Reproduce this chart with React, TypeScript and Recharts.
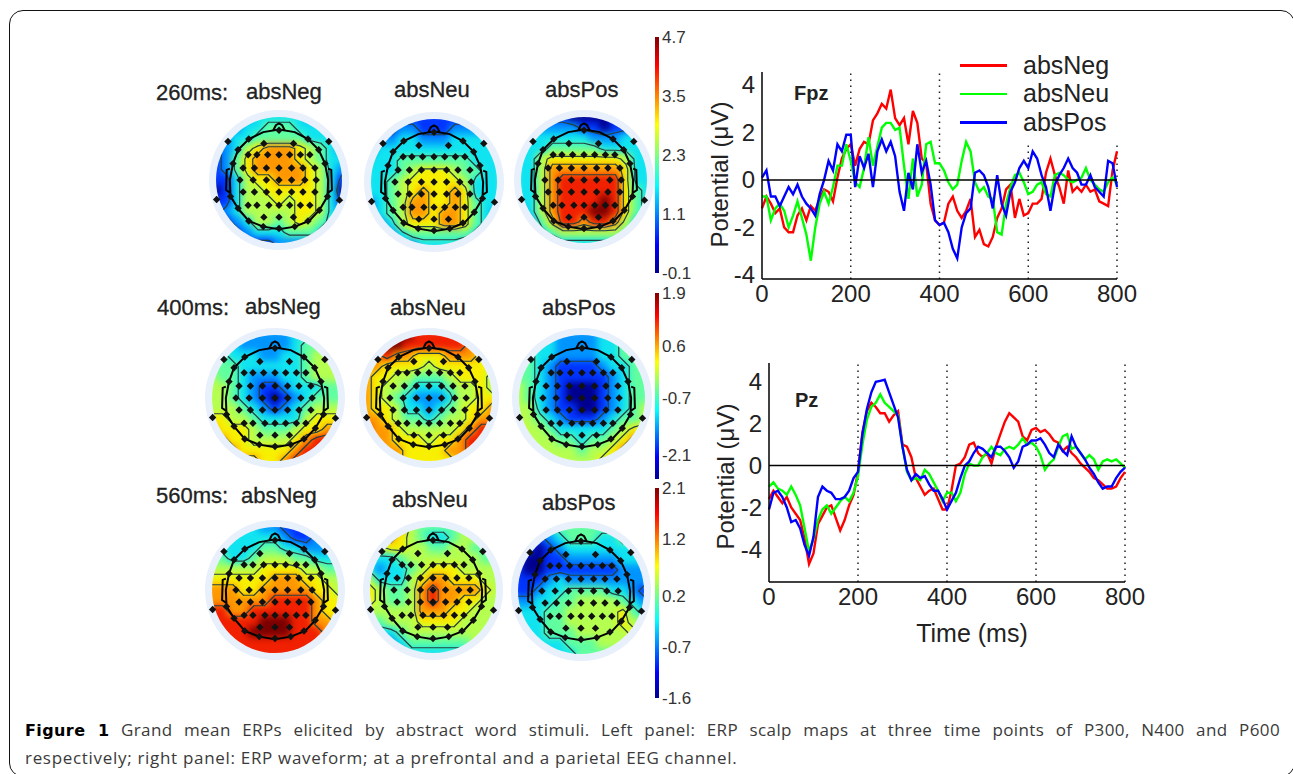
import React from "react"
import {
  Bar, BarChart, Legend, Line, LineChart, ReferenceLine, Scatter, ScatterChart, XAxis, YAxis,
} from "recharts"

const FONT = "'Liberation Sans', Arial, sans-serif"
const RED = "#ff0000"
const GREEN = "#00ff00"
const BLUE = "#0000ff"

// waveform samples, one every 10 ms
const timeMs = Array.from({ length: 81 }, (_, i) => i * 10)
const timeTicks = [0, 200, 400, 600, 800]

const fpzNeg = [-1.2, -0.7, -1.0, -1.4, -1.2, -2.0, -2.2, -2.2, -1.5, -1.2, -1.7, -1.1, -1.3, -0.8, -0.4, -0.5, -0.9, 0.1, 0.9, 1.3, 1.5, 0.6, 1.3, 1.6, 1.5, 2.5, 2.8, 3.2, 3.0, 3.8, 2.6, 2.3, 2.6, 1.5, 2.9, 2.4, 0.9, 0.7, -1.0, -1.7, -1.9, -1.8, -1.0, -0.7, -1.3, -1.6, -1.3, -0.8, -2.4, -2.1, -2.7, -2.8, -2.4, -1.6, -1.2, -0.4, -0.2, -1.6, -0.8, -1.5, -1.4, -1.0, -1.0, -0.8, 0.3, 0.9, 0.2, -0.3, -1.0, 0.4, -0.5, -0.3, -0.5, -0.2, -0.5, -0.4, -0.9, -1.0, -1.1, 0.4, 1.2]
const fpzNeu = [-0.7, -0.7, -1.7, -1.2, -1.0, -1.3, -2.0, -1.5, -0.9, -1.6, -2.3, -3.4, -2.0, -1.0, -0.5, -1.0, -0.3, 0.6, 0.6, 1.5, 0.8, -0.1, -0.3, 0.5, 1.8, 0.6, 1.4, 2.2, 2.4, 2.4, 2.1, 2.2, 0.6, -0.8, 0.9, -0.7, -0.2, 1.5, 1.6, 0.7, 0.7, 0.4, -0.1, -0.4, -0.2, 0.8, 1.6, 1.2, -0.1, -0.5, -0.3, -0.7, -0.8, -2.2, -2.3, -1.0, -0.3, 0.2, 0.3, -0.1, -0.6, -0.5, -0.2, -0.1, -0.6, -0.7, 0.2, 0.3, 0.2, 0.0, -0.1, 0.0, 0.1, 0.5, 0.0, -0.2, -0.4, -0.5, -0.1, 0.1, -0.2]
const fpzPos = [0.1, 0.4, -0.7, -0.7, -1.1, -0.7, -0.3, -0.6, -0.2, -0.7, -1.0, -1.2, -1.5, -0.6, 0.0, 0.8, 0.4, 1.5, 1.2, 1.9, 1.9, -0.3, 1.0, 0.5, 1.1, -0.3, 1.2, 1.7, 1.2, 1.6, 1.0, -0.5, -1.3, 0.3, -0.4, 1.5, 0.3, 0.8, -0.2, -1.7, -1.9, -1.8, -2.2, -2.9, -3.3, -2.0, -1.4, -1.2, 0.3, 0.4, 0.2, -0.3, -1.2, 0.2, -1.0, -1.5, -0.5, -0.1, 0.5, 0.8, 0.5, 1.2, 0.9, 0.2, -0.3, -1.3, -0.2, 0.2, 0.5, 0.9, 0.5, 0.3, -0.2, -0.2, 0.2, -0.3, -0.5, -0.7, 0.8, 0.7, -0.3]

const pzNeg = [-1.6, -1.2, -1.5, -1.8, -1.5, -2.0, -2.3, -2.6, -3.5, -4.7, -4.2, -2.8, -2.4, -2.0, -1.9, -2.5, -3.1, -2.6, -1.9, -1.4, -0.3, 1.6, 2.6, 3.0, 2.8, 2.5, 2.5, 2.1, 2.4, 2.6, 1.0, 0.9, 0.4, -0.6, -1.0, -1.4, -1.2, -1.1, -1.6, -2.1, -2.1, -1.2, 0.0, 0.1, 0.4, 1.0, 1.1, 0.6, 0.4, 0.6, 0.1, 0.9, 1.5, 2.1, 2.5, 2.3, 2.1, 1.4, 1.2, 1.7, 1.8, 1.6, 1.7, 1.5, 1.2, 1.1, 0.7, 0.9, 0.6, 0.4, 0.1, -0.1, -0.3, -0.6, -0.7, -0.9, -1.1, -1.1, -1.0, -0.6, -0.3]
const pzNeu = [-1.0, -0.8, -1.1, -1.2, -1.4, -1.0, -1.4, -1.9, -3.0, -4.1, -3.5, -2.6, -2.1, -1.9, -2.3, -2.0, -1.7, -1.5, -1.7, -1.3, -0.5, 1.0, 2.2, 2.8, 3.0, 3.4, 3.0, 2.8, 2.6, 2.4, 0.9, -0.3, -0.7, -0.6, -0.7, -0.2, -0.4, -0.8, -1.2, -1.7, -1.3, -1.3, -1.7, -1.3, -0.4, 0.1, 0.0, 0.0, 0.4, 0.6, 0.9, 0.6, 0.5, 0.8, 0.9, 0.8, 1.0, 1.3, 1.0, 1.1, 0.9, 0.5, -0.2, 0.1, 0.3, 0.9, 1.4, 1.5, 0.8, 0.9, 0.6, 0.3, 0.5, 0.3, -0.2, 0.2, 0.3, 0.2, 0.3, 0.1, -0.1]
const pzPos = [-2.1, -1.3, -1.2, -1.5, -2.0, -2.7, -2.6, -3.0, -3.8, -4.3, -3.4, -1.5, -1.0, -1.2, -1.3, -1.6, -1.6, -1.5, -1.2, -0.6, -0.3, 1.5, 2.7, 3.5, 4.0, 4.05, 4.1, 3.5, 2.9, 2.3, 0.9, -0.2, -0.7, -0.4, -0.6, -0.5, -0.9, -1.2, -1.2, -1.6, -2.1, -1.7, -1.3, -0.6, 0.0, 0.2, 0.6, 0.9, 0.8, 0.6, 0.4, 0.9, 0.9, 0.7, 0.4, -0.1, 0.2, 0.9, 1.0, 1.2, 1.2, 1.3, 1.0, 0.6, 0.4, 1.0, 0.7, 0.5, 1.4, 0.9, 0.6, 0.3, -0.1, -0.4, -0.8, -1.1, -1.0, -1.0, -0.6, -0.3, -0.1]

const fpzTable = timeMs.map((t, i) => ({ t, absNeg: fpzNeg[i], absNeu: fpzNeu[i], absPos: fpzPos[i] }))
const pzTable = timeMs.map((t, i) => ({ t, absNeg: pzNeg[i], absNeu: pzNeu[i], absPos: pzPos[i] }))

// scalp maps: colour level 0-9 on a 13x13 grid, top row is the front of the head
const map260Neg = [
  [2, 2, 2, 2, 3, 3, 3, 3, 3, 2, 2, 2, 2],
  [2, 2, 2, 3, 3, 4, 4, 4, 3, 3, 3, 2, 2],
  [2, 2, 3, 3, 4, 4, 4, 4, 4, 3, 3, 3, 2],
  [1, 2, 3, 5, 6, 7, 7, 7, 6, 5, 4, 3, 2],
  [1, 2, 4, 6, 7, 7, 7, 7, 6, 5, 4, 3, 3],
  [1, 2, 4, 6, 7, 7, 7, 7, 7, 6, 5, 3, 2],
  [1, 1, 3, 5, 6, 6, 7, 7, 7, 6, 5, 3, 1],
  [0, 1, 3, 5, 5, 6, 6, 6, 6, 6, 5, 3, 0],
  [1, 1, 3, 5, 5, 5, 6, 5, 6, 6, 5, 3, 1],
  [1, 2, 3, 5, 5, 5, 5, 5, 6, 6, 5, 3, 2],
  [1, 1, 2, 3, 5, 5, 4, 5, 6, 5, 4, 3, 2],
  [1, 1, 1, 2, 3, 3, 3, 4, 4, 4, 3, 2, 2],
  [1, 1, 1, 1, 1, 1, 2, 2, 2, 2, 2, 2, 2],
]
const map260Neu = [
  [1, 1, 1, 1, 1, 1, 1, 1, 1, 1, 1, 1, 1],
  [1, 1, 1, 2, 2, 1, 1, 1, 2, 2, 2, 2, 1],
  [2, 2, 2, 3, 3, 2, 2, 2, 3, 3, 3, 3, 2],
  [2, 3, 3, 3, 3, 3, 3, 3, 3, 3, 3, 3, 3],
  [3, 3, 3, 4, 4, 4, 4, 4, 4, 4, 3, 3, 3],
  [3, 3, 3, 4, 5, 6, 6, 6, 5, 4, 4, 3, 3],
  [3, 3, 4, 5, 6, 6, 6, 6, 6, 5, 3, 3, 3],
  [3, 3, 4, 5, 6, 7, 6, 6, 7, 6, 3, 3, 3],
  [2, 3, 4, 5, 7, 7, 6, 6, 7, 6, 4, 3, 3],
  [2, 3, 4, 5, 7, 7, 6, 7, 7, 6, 4, 3, 2],
  [1, 2, 3, 5, 6, 6, 6, 7, 7, 6, 4, 3, 2],
  [1, 1, 2, 3, 4, 4, 4, 4, 4, 4, 3, 2, 2],
  [1, 1, 1, 2, 2, 3, 3, 3, 3, 2, 2, 2, 2],
]
const map260Pos = [
  [1, 1, 1, 1, 1, 0, 0, 0, 0, 1, 1, 1, 1],
  [2, 2, 2, 2, 2, 2, 1, 1, 0, 1, 1, 2, 2],
  [3, 3, 3, 3, 3, 3, 3, 2, 2, 2, 3, 3, 3],
  [3, 3, 3, 4, 4, 4, 4, 4, 3, 3, 3, 3, 3],
  [3, 3, 5, 6, 6, 6, 6, 6, 6, 6, 5, 3, 3],
  [3, 3, 5, 7, 7, 7, 7, 7, 7, 7, 6, 3, 3],
  [3, 3, 5, 7, 8, 8, 8, 8, 8, 8, 6, 3, 3],
  [3, 3, 5, 7, 8, 8, 8, 8, 8, 8, 6, 4, 3],
  [3, 3, 5, 7, 8, 8, 8, 8, 9, 8, 6, 4, 3],
  [2, 3, 5, 7, 8, 8, 8, 9, 9, 8, 6, 4, 3],
  [2, 2, 4, 6, 8, 8, 7, 8, 8, 7, 5, 3, 3],
  [1, 2, 3, 4, 5, 5, 5, 5, 5, 5, 4, 3, 2],
  [1, 1, 2, 2, 3, 3, 3, 3, 3, 3, 2, 2, 2],
]
const map400Neg = [
  [3, 3, 3, 2, 2, 2, 2, 2, 3, 3, 4, 4, 4],
  [3, 3, 3, 2, 2, 2, 2, 2, 3, 4, 4, 5, 5],
  [4, 4, 3, 3, 3, 2, 2, 3, 3, 4, 5, 5, 5],
  [4, 4, 4, 3, 3, 3, 3, 3, 3, 4, 5, 5, 5],
  [5, 4, 4, 3, 2, 2, 2, 3, 3, 4, 5, 5, 5],
  [5, 5, 4, 3, 2, 1, 1, 2, 3, 3, 3, 4, 4],
  [5, 5, 4, 3, 2, 1, 0, 1, 2, 3, 4, 4, 4],
  [5, 5, 5, 4, 3, 2, 1, 2, 3, 4, 5, 5, 5],
  [6, 6, 5, 5, 4, 3, 3, 3, 3, 5, 6, 6, 6],
  [7, 6, 6, 6, 5, 4, 4, 4, 5, 6, 6, 7, 7],
  [7, 7, 6, 6, 5, 5, 5, 5, 6, 7, 8, 8, 8],
  [7, 7, 7, 6, 6, 6, 6, 6, 7, 8, 8, 8, 8],
  [7, 7, 7, 7, 7, 6, 6, 7, 8, 8, 8, 8, 8],
]
const map400Neu = [
  [8, 8, 9, 9, 9, 8, 8, 8, 8, 8, 8, 8, 7],
  [7, 8, 9, 9, 8, 8, 8, 8, 8, 8, 7, 7, 7],
  [7, 7, 8, 7, 7, 6, 6, 6, 7, 7, 7, 6, 6],
  [7, 7, 6, 6, 6, 6, 5, 6, 6, 6, 6, 6, 6],
  [7, 6, 6, 5, 5, 4, 4, 4, 5, 6, 6, 6, 5],
  [7, 6, 5, 5, 4, 3, 3, 3, 4, 5, 5, 6, 5],
  [7, 6, 5, 4, 3, 2, 2, 2, 3, 5, 5, 6, 6],
  [7, 6, 6, 5, 3, 3, 2, 3, 4, 5, 6, 6, 7],
  [7, 7, 6, 5, 4, 4, 3, 4, 5, 5, 6, 7, 7],
  [8, 7, 7, 6, 5, 5, 5, 5, 5, 6, 7, 8, 8],
  [7, 7, 7, 6, 6, 6, 5, 6, 6, 7, 8, 8, 8],
  [7, 7, 7, 7, 6, 6, 6, 6, 7, 7, 8, 8, 8],
  [7, 7, 7, 7, 6, 6, 6, 6, 6, 7, 7, 7, 7],
]
const map400Pos = [
  [3, 3, 3, 3, 2, 2, 2, 2, 3, 3, 4, 4, 4],
  [4, 3, 3, 3, 2, 2, 2, 2, 3, 3, 4, 4, 4],
  [4, 4, 3, 3, 2, 2, 2, 2, 3, 3, 4, 4, 4],
  [4, 4, 3, 2, 1, 1, 1, 1, 2, 3, 3, 4, 4],
  [4, 4, 3, 2, 1, 1, 1, 1, 1, 2, 3, 4, 4],
  [5, 4, 3, 2, 1, 0, 0, 0, 1, 2, 3, 4, 4],
  [5, 4, 3, 2, 1, 0, 0, 0, 1, 2, 3, 4, 4],
  [5, 5, 3, 2, 1, 1, 0, 0, 1, 2, 3, 4, 5],
  [5, 5, 4, 3, 2, 1, 1, 1, 2, 3, 4, 4, 5],
  [6, 5, 5, 4, 3, 3, 3, 3, 3, 4, 5, 6, 6],
  [6, 5, 5, 5, 4, 4, 3, 4, 4, 5, 6, 7, 7],
  [6, 6, 5, 5, 5, 5, 4, 5, 5, 6, 7, 7, 7],
  [6, 6, 6, 5, 5, 5, 5, 5, 6, 6, 7, 7, 7],
]
const map560Neg = [
  [3, 3, 3, 3, 3, 2, 2, 1, 1, 1, 2, 2, 2],
  [3, 3, 3, 3, 3, 3, 3, 2, 1, 1, 2, 2, 2],
  [3, 3, 3, 3, 3, 4, 4, 3, 3, 2, 2, 2, 2],
  [4, 4, 3, 3, 4, 5, 5, 5, 4, 4, 3, 3, 3],
  [5, 5, 5, 5, 5, 6, 6, 6, 6, 5, 5, 4, 4],
  [6, 6, 6, 6, 6, 6, 7, 7, 7, 6, 6, 5, 5],
  [7, 7, 7, 6, 6, 7, 7, 7, 7, 7, 6, 6, 5],
  [7, 7, 7, 7, 7, 7, 8, 8, 8, 8, 7, 6, 6],
  [8, 8, 7, 7, 8, 8, 8, 8, 8, 8, 7, 6, 6],
  [8, 8, 8, 8, 8, 9, 9, 9, 8, 8, 7, 7, 6],
  [8, 8, 8, 8, 9, 9, 9, 9, 8, 8, 8, 7, 7],
  [8, 8, 8, 8, 8, 8, 8, 8, 8, 8, 8, 7, 7],
  [8, 8, 8, 8, 8, 8, 8, 8, 8, 8, 8, 7, 7],
]
const map560Neu = [
  [6, 6, 7, 7, 5, 4, 4, 4, 4, 5, 5, 4, 4],
  [6, 6, 7, 6, 5, 4, 3, 3, 4, 5, 5, 4, 4],
  [4, 5, 6, 6, 5, 5, 4, 4, 5, 5, 4, 4, 4],
  [3, 3, 3, 4, 5, 5, 5, 5, 5, 5, 5, 4, 4],
  [3, 2, 3, 3, 4, 5, 6, 6, 6, 5, 5, 5, 5],
  [5, 3, 3, 3, 5, 6, 7, 7, 6, 6, 6, 5, 5],
  [6, 5, 4, 4, 5, 7, 8, 7, 7, 7, 7, 6, 5],
  [6, 5, 4, 4, 5, 7, 8, 7, 7, 6, 6, 5, 5],
  [5, 5, 5, 5, 5, 7, 7, 7, 6, 6, 5, 5, 5],
  [4, 4, 5, 5, 5, 6, 6, 6, 6, 5, 5, 5, 5],
  [2, 3, 3, 4, 5, 5, 5, 5, 5, 5, 5, 5, 5],
  [1, 1, 2, 3, 4, 4, 4, 4, 4, 4, 5, 5, 5],
  [1, 1, 1, 2, 3, 3, 3, 3, 3, 3, 3, 3, 4],
]
const map560Pos = [
  [2, 2, 2, 3, 4, 4, 4, 4, 4, 4, 4, 4, 4],
  [2, 1, 1, 2, 3, 4, 4, 4, 3, 3, 4, 4, 4],
  [1, 1, 0, 1, 2, 3, 3, 3, 3, 3, 3, 3, 3],
  [1, 0, 0, 1, 1, 2, 2, 2, 2, 2, 3, 3, 3],
  [1, 0, 0, 1, 1, 1, 1, 1, 1, 1, 2, 2, 2],
  [1, 1, 1, 2, 3, 2, 2, 2, 2, 2, 2, 2, 2],
  [1, 1, 2, 3, 3, 4, 4, 4, 4, 3, 3, 2, 1],
  [2, 2, 3, 3, 4, 4, 5, 5, 5, 5, 4, 3, 2],
  [3, 3, 3, 4, 4, 5, 5, 5, 5, 5, 6, 4, 3],
  [3, 3, 3, 4, 4, 5, 5, 5, 5, 5, 6, 5, 5],
  [3, 3, 3, 4, 4, 4, 5, 5, 5, 5, 5, 6, 6],
  [3, 3, 3, 3, 3, 4, 4, 4, 5, 5, 5, 6, 6],
  [3, 3, 3, 3, 3, 3, 4, 4, 4, 4, 5, 5, 6],
]

const levelColors = ["#00008f", "#0034ff", "#0094ff", "#10e4f0", "#60ffa0", "#b4ff50", "#f8f000", "#ff9800", "#f02000", "#7a0000"]
const contourLevels = [1.5, 3.5, 5.5, 6.5, 7.5]

// electrode montage in head units
const electrodeX = [-0.81, 0.79, -0.99, 0.96, -0.24, 0.23, 0, -0.48, 0.46, -0.65, 0.63, -0.49, -0.35, -0.18, 0, 0.17, 0.34, 0.49, -0.73, 0.73, -0.57, -0.39, -0.2, 0, 0.2, 0.38, 0.57, -0.62, -0.41, -0.2, 0, 0.2, 0.41, 0.59, -0.57, -0.39, -0.2, 0, 0.2, 0.38, 0.57, -0.49, -0.35, -0.16, 0, 0.17, 0.34, 0.49, -0.24, 0, 0.23, -0.48, 0.46, 0, -0.25, 0.25, -0.65, 0.64, -0.77, 0.77]
const electrodeY = [0.61, 0.61, -0.31, -0.32, 0.58, 0.58, 0.79, 0.65, 0.65, 0.48, 0.48, 0.4, 0.4, 0.4, 0.4, 0.4, 0.4, 0.4, 0.26, 0.26, 0.19, 0.19, 0.19, 0.19, 0.19, 0.19, 0.19, 0, 0, 0, 0, 0, 0, 0, -0.19, -0.19, -0.19, -0.19, -0.19, -0.19, -0.19, -0.4, -0.4, -0.4, -0.4, -0.4, -0.4, -0.4, -0.59, -0.59, -0.59, -0.65, -0.65, -0.77, -0.74, -0.74, -0.45, -0.48, -0.26, -0.26]
const electrodes = electrodeX.map((x, i) => ({ x, y: electrodeY[i] }))

const headRing = [[0, 0.8], [0.25, 0.76], [0.46, 0.65], [0.63, 0.48], [0.73, 0.26], [0.78, 0], [0.77, -0.26], [0.64, -0.48], [0.48, -0.65], [0.25, -0.74], [0, -0.78], [-0.25, -0.74], [-0.48, -0.65], [-0.65, -0.45], [-0.77, -0.26], [-0.78, 0], [-0.73, 0.26], [-0.65, 0.48], [-0.48, 0.65], [-0.25, 0.76], [0, 0.8]]
const noseLine = [[-0.09, 0.79], [-0.05, 0.87], [0, 0.9], [0.05, 0.87], [0.09, 0.79]]
const leftEar = [[-0.78, 0.18], [-0.83, 0.16], [-0.84, -0.16], [-0.78, -0.2]]
const rightEar = [[0.78, 0.18], [0.83, 0.16], [0.84, -0.16], [0.78, -0.2]]
const toPoints = (rows: number[][]) => rows.map(([x, y]) => ({ x, y }))

const DISC_R = 63
const CHART_SIZE = 150
const UNIT = (CHART_SIZE / 2) / DISC_R
const CELL = DISC_R / 6 + 0.6

const gridCells = (grid: number[][]) =>
  grid.flatMap((row, r) => row.map((level, c) => ({ x: -1 + c / 6, y: 1 - r / 6, level })))

// marching squares over the level grid, two points per contour piece
const contourPieces = (grid: number[][]) => {
  const pts: { x: number, y: number }[] = []
  const px = (c: number) => -1 + c / 6
  const py = (r: number) => 1 - r / 6
  contourLevels.forEach((lv) => {
    for (let r = 0; r < grid.length - 1; r++) {
      for (let c = 0; c < grid[r].length - 1; c++) {
        const a = grid[r][c], b = grid[r][c + 1], d = grid[r + 1][c + 1], e = grid[r + 1][c]
        const hits: { x: number, y: number }[] = []
        if ((a - lv) * (b - lv) < 0) hits.push({ x: px(c + (lv - a) / (b - a)), y: py(r) })
        if ((b - lv) * (d - lv) < 0) hits.push({ x: px(c + 1), y: py(r + (lv - b) / (d - b)) })
        if ((d - lv) * (e - lv) < 0) hits.push({ x: px(c + (lv - e) / (d - e)), y: py(r + 1) })
        if ((e - lv) * (a - lv) < 0) hits.push({ x: px(c), y: py(r + (lv - a) / (e - a)) })
        pts.push(...hits)
      }
    }
  })
  return pts
}

const HeatCell = (p: any) => (
  <rect x={p.cx - CELL / 2} y={p.cy - CELL / 2} width={CELL} height={CELL} fill={levelColors[p.payload.level]} />
)
const ElectrodeMark = (p: any) => (
  <path d={`M${p.cx} ${p.cy - 3.7}L${p.cx + 3.7} ${p.cy}L${p.cx} ${p.cy + 3.7}L${p.cx - 3.7} ${p.cy}Z`} fill="#111" />
)
const NoMark = () => <g />
const ContourPath = (p: any) => {
  let d = ""
  for (let i = 0; i + 1 < p.points.length; i += 2) {
    d += `M${p.points[i].x} ${p.points[i].y}L${p.points[i + 1].x} ${p.points[i + 1].y}`
  }
  return <path d={d} fill="none" stroke="#24403f" strokeWidth={1.2} strokeLinecap="round" />
}
const headStroke = { stroke: "#000", strokeWidth: 2 }

const ScalpMap = ({ grid, cx, cy }: { grid: number[][], cx: number, cy: number }) => (
  <div style={{ position: "absolute", left: cx - CHART_SIZE / 2, top: cy - CHART_SIZE / 2, width: CHART_SIZE, height: CHART_SIZE }}>
    <div style={{ position: "absolute", left: 5, top: 5, width: 140, height: 140, borderRadius: "50%", background: "#e8f0fc" }} />
    <ScatterChart width={CHART_SIZE} height={CHART_SIZE} margin={{ top: 0, right: 0, bottom: 0, left: 0 }}>
      <defs>
        <clipPath id="discClip">
          <circle cx={CHART_SIZE / 2} cy={CHART_SIZE / 2} r={DISC_R} />
        </clipPath>
      </defs>
      <XAxis type="number" dataKey="x" domain={[-UNIT, UNIT]} hide />
      <YAxis type="number" dataKey="y" domain={[-UNIT, UNIT]} hide />
      <Scatter className="heat" data={gridCells(grid)} shape={HeatCell} isAnimationActive={false} />
      <Scatter className="contour" data={contourPieces(grid)} shape={NoMark} line={ContourPath} isAnimationActive={false} />
      <Scatter data={toPoints(headRing)} shape={NoMark} line={headStroke} isAnimationActive={false} />
      <Scatter data={toPoints(noseLine)} shape={NoMark} line={headStroke} isAnimationActive={false} />
      <Scatter data={toPoints(leftEar)} shape={NoMark} line={headStroke} isAnimationActive={false} />
      <Scatter data={toPoints(rightEar)} shape={NoMark} line={headStroke} isAnimationActive={false} />
      <Scatter data={electrodes} shape={ElectrodeMark} isAnimationActive={false} />
    </ScatterChart>
  </div>
)

const jetStops = [
  { at: 0, color: "#00008f" }, { at: 0.12, color: "#0000ff" }, { at: 0.37, color: "#00ffff" },
  { at: 0.63, color: "#ffff00" }, { at: 0.88, color: "#ff0000" }, { at: 1, color: "#800000" },
]

const ColorBar = ({ id, top, height, domain, ticks }: { id: string, top: number, height: number, domain: number[], ticks: number[] }) => (
  <div style={{ position: "absolute", left: 655, top: top - 12, width: 50, height: height + 24 }}>
    <BarChart width={50} height={height + 24} data={[{ name: id, range: domain }]}
      margin={{ top: 12, right: 0, bottom: 12, left: 0 }} barCategoryGap={0}>
      <defs>
        <linearGradient id={id} x1="0" y1="1" x2="0" y2="0">
          {jetStops.map((s) => <stop key={s.at} offset={s.at} stopColor={s.color} />)}
        </linearGradient>
      </defs>
      <XAxis dataKey="name" hide />
      <YAxis orientation="right" width={46} type="number" domain={domain} ticks={ticks} interval={0}
        axisLine={false} tickLine={false} tickSize={0} tickMargin={3}
        tickFormatter={(v: number) => v.toFixed(1)}
        tick={{ fontFamily: FONT, fontSize: 17, fill: "#333" }} />
      <Bar dataKey="range" fill={`url(#${id})`} isAnimationActive={false} />
    </BarChart>
  </div>
)

const axisTick = { fontFamily: FONT, fontSize: 24, fill: "#222" }

const LegendBox = ({ payload }: any) => (
  <div style={{ fontFamily: FONT, fontSize: 25, color: "#222" }}>
    {(payload || []).map((e: any) => (
      <div key={e.value} style={{ display: "flex", alignItems: "center", height: 28.5 }}>
        <span style={{ width: 47, height: 2.5, background: e.color, marginRight: 16 }} />
        <span>{e.value}</span>
      </div>
    ))}
  </div>
)

const FpzChart = () => (
  <div style={{ position: "absolute", left: 700, top: 40, width: 450, height: 280 }}>
    <LineChart width={450} height={280} data={fpzTable} margin={{ top: 32, right: 33, bottom: 11, left: 0 }}>
      <XAxis dataKey="t" type="number" domain={[0, 800]} ticks={timeTicks} interval={0} tick={axisTick}
        tickLine={false} tickSize={0} tickMargin={6} stroke="#000" strokeWidth={1.5} />
      <YAxis type="number" domain={[-4.17, 4.54]} ticks={[-4, -2, 0, 2, 4]} interval={0} width={62} tick={axisTick}
        tickLine={false} tickSize={0} tickMargin={7} stroke="#000" strokeWidth={1.5}
        label={{ value: "Potential (\u03BCV)", angle: -90, position: "insideLeft", offset: 0, dx: 19, dy: 72, style: { fontFamily: FONT, fontSize: 24, fill: "#222" } }} />
      <ReferenceLine x={200} stroke="#222" strokeDasharray="1.5 4.5" strokeWidth={1.5} />
      <ReferenceLine x={400} stroke="#222" strokeDasharray="1.5 4.5" strokeWidth={1.5} />
      <ReferenceLine segment={[{ x: 600, y: -4.17 }, { x: 600, y: 1.45 }]} stroke="#222" strokeDasharray="1.5 4.5" strokeWidth={1.5} />
      <ReferenceLine segment={[{ x: 800, y: -4.17 }, { x: 800, y: 1.55 }]} stroke="#222" strokeDasharray="1.5 4.5" strokeWidth={1.5} />
      <Line dataKey="absNeg" stroke={RED} strokeWidth={2.4} dot={false} isAnimationActive={false} />
      <Line dataKey="absNeu" stroke={GREEN} strokeWidth={2.4} dot={false} isAnimationActive={false} />
      <Line dataKey="absPos" stroke={BLUE} strokeWidth={2.4} dot={false} isAnimationActive={false} />
      <ReferenceLine y={0} stroke="#000" strokeWidth={1.5} />
      <Legend layout="vertical" verticalAlign="middle" align="center" content={LegendBox}
        wrapperStyle={{ left: 260, top: 11, width: 170 }} />
      <text x={94} y={60} fontFamily={FONT} fontSize={20} fontWeight="bold" fill="#222">Fpz</text>
    </LineChart>
  </div>
)

const PzChart = () => (
  <div style={{ position: "absolute", left: 700, top: 350, width: 450, height: 300 }}>
    <LineChart width={450} height={300} data={pzTable} margin={{ top: 13, right: 25, bottom: 38, left: 0 }}>
      <XAxis dataKey="t" type="number" domain={[0, 800]} ticks={timeTicks} interval={0} tick={axisTick}
        tickLine={false} tickSize={0} tickMargin={6} stroke="#000" strokeWidth={1.5}
        label={{ value: "Time (ms)", position: "insideBottom", offset: -30, dx: 25, style: { fontFamily: FONT, fontSize: 25, fill: "#222" } }} />
      <YAxis type="number" domain={[-5.56, 4.9]} ticks={[-4, -2, 0, 2, 4]} interval={0} width={69} tick={axisTick}
        tickLine={false} tickSize={0} tickMargin={7} stroke="#000" strokeWidth={1.5}
        label={{ value: "Potential (\u03BCV)", angle: -90, position: "insideLeft", offset: 0, dx: 25, dy: 77, style: { fontFamily: FONT, fontSize: 24, fill: "#222" } }} />
      {[200, 400, 600, 800].map((t) => (
        <ReferenceLine key={t} x={t} stroke="#222" strokeDasharray="1.5 4.5" strokeWidth={1.5} />
      ))}
      <Line dataKey="absNeg" stroke={RED} strokeWidth={2.4} dot={false} isAnimationActive={false} />
      <Line dataKey="absNeu" stroke={GREEN} strokeWidth={2.4} dot={false} isAnimationActive={false} />
      <Line dataKey="absPos" stroke={BLUE} strokeWidth={2.4} dot={false} isAnimationActive={false} />
      <ReferenceLine y={0} stroke="#000" strokeWidth={1.5} />
      <text x={95} y={57} fontFamily={FONT} fontSize={20} fontWeight="bold" fill="#222">Pz</text>
    </LineChart>
  </div>
)

const titleRows = [
  { text: "260ms:", x: 156, y: 93 }, { text: "absNeg", x: 246, y: 92 }, { text: "absNeu", x: 394, y: 90 }, { text: "absPos", x: 545, y: 90 },
  { text: "400ms:", x: 157, y: 308 }, { text: "absNeg", x: 245, y: 307 }, { text: "absNeu", x: 390, y: 308 }, { text: "absPos", x: 542, y: 308 },
  { text: "560ms:", x: 156, y: 496 }, { text: "absNeg", x: 241, y: 496 }, { text: "absNeu", x: 392, y: 500 }, { text: "absPos", x: 542, y: 503 },
]

const captionBold = "Figure 1"
const captionLine1 = " Grand mean ERPs elicited by abstract word stimuli. Left panel: ERP scalp maps at three time points of P300, N400 and P600"
const captionLine2 = "respectively; right panel: ERP waveform; at a prefrontal and a parietal EEG channel."

const captionStyle: React.CSSProperties = {
  position: "absolute", left: 25, width: 1255, fontFamily: "'Open Sans', sans-serif", fontSize: 17,
  letterSpacing: 0.69, lineHeight: "28px", color: "#3a3a3a", whiteSpace: "nowrap",
}

const App = () => (
  <div style={{ position: "absolute", left: 0, top: 0, width: 1293, height: 774, overflow: "hidden", background: "#fff" }}>
    <style>{`.heat{filter:blur(3.5px);clip-path:url(#discClip)}.contour{clip-path:url(#discClip)}`}</style>
    <div style={{ position: "absolute", left: 9, top: 10, width: 1286, height: 767, border: "1.5px solid #111", borderRadius: 14, boxSizing: "border-box" }} />

    {titleRows.map((t) => (
      <div key={t.text + t.x + t.y} style={{ position: "absolute", left: t.x, top: t.y - 13, fontFamily: FONT, fontSize: 22, lineHeight: "26px", color: "#222", WebkitTextStroke: "0.3px #222" }}>{t.text}</div>
    ))}

    <ScalpMap grid={map260Neg} cx={279} cy={180} />
    <ScalpMap grid={map260Neu} cx={434} cy={182} />
    <ScalpMap grid={map260Pos} cx={584} cy={180} />
    <ScalpMap grid={map400Neg} cx={275} cy={398} />
    <ScalpMap grid={map400Neu} cx={429} cy={398} />
    <ScalpMap grid={map400Pos} cx={582} cy={398} />
    <ScalpMap grid={map560Neg} cx={275} cy={590} />
    <ScalpMap grid={map560Neu} cx={433} cy={590} />
    <ScalpMap grid={map560Pos} cx={581} cy={591} />

    <ColorBar id="jetA" top={37} height={236} domain={[-0.1, 4.7]} ticks={[-0.1, 1.1, 2.3, 3.5, 4.7]} />
    <ColorBar id="jetB" top={293} height={186} domain={[-2.7, 1.9]} ticks={[-2.1, -0.7, 0.6, 1.9]} />
    <ColorBar id="jetC" top={488} height={210} domain={[-1.6, 2.1]} ticks={[-1.6, -0.7, 0.2, 1.2, 2.1]} />

    <FpzChart />
    <PzChart />

    <div style={{ ...captionStyle, top: 716, textAlign: "justify", textAlignLast: "justify", letterSpacing: 0.4 }}>
      <b style={{ color: "#000", fontFamily: "'DejaVu Sans', sans-serif", fontSize: 16 }}>{captionBold}</b>{captionLine1}
    </div>
    <div style={{ ...captionStyle, top: 744 }}>
      {captionLine2}
    </div>
  </div>
)

export default App
